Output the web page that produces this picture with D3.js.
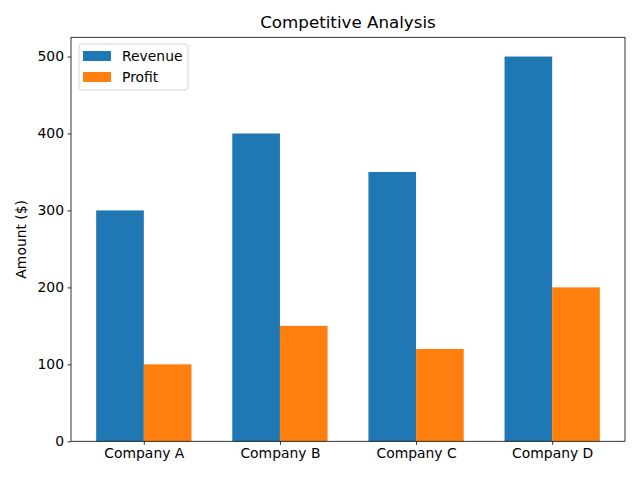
<!DOCTYPE html>
<html><head><meta charset="utf-8">
<script src="https://cdn.jsdelivr.net/npm/d3@7"></script>
<style>body{margin:0;background:#fff}text{font-family:"DejaVu Sans",sans-serif}</style>
</head><body>
<svg id="c" width="640" height="480"></svg>
<script>
const categories = ["Company A","Company B","Company C","Company D"];
const revenue = [300,400,350,500];
const profit = [100,150,120,200];
const yTicks = [0,100,200,300,400,500];
const seriesNames = ["Revenue","Profit"];
const colors = ["#1f77b4","#ff7f0e"];
const title = "Competitive Analysis";
const yLabel = "Amount ($)";

const svg = d3.select("#c");
const L=71, R=625, T=37.3, B=441.3;
const bw = 0.35;
const x = d3.scaleLinear().domain([-0.35-0.185, 3.35+0.185]).range([L,R]);
const y = d3.scaleLinear().domain([0,525]).range([B,T]);

const g = svg.append("g");
categories.forEach((c,i)=>{
  g.append("rect").attr("x",x(i-bw)).attr("width",x(i)-x(i-bw))
   .attr("y",y(revenue[i])).attr("height",y(0)-y(revenue[i])).attr("fill",colors[0]);
  g.append("rect").attr("x",x(i)).attr("width",x(i+bw)-x(i))
   .attr("y",y(profit[i])).attr("height",y(0)-y(profit[i])).attr("fill",colors[1]);
});

const xAxis = d3.axisBottom(x).tickValues(d3.range(categories.length)).tickFormat(i=>categories[i]).tickSize(3.5).tickPadding(3.5);
const gx = svg.append("g").attr("transform",`translate(0,${B})`).call(xAxis);
const yAxis = d3.axisLeft(y).tickValues(yTicks).tickSize(3.5).tickPadding(3.5);
const gy = svg.append("g").attr("transform",`translate(${L},0)`).call(yAxis);
[gx,gy].forEach(a=>{a.select(".domain").remove();a.selectAll("text").attr("font-size","13.9px").attr("font-family","DejaVu Sans").attr("fill","#000");a.selectAll("line").attr("stroke","#000").attr("stroke-width",0.8);});

svg.append("rect").attr("x",L).attr("y",T).attr("width",R-L).attr("height",B-T)
 .attr("fill","none").attr("stroke","#000").attr("stroke-width",0.8);

svg.append("text").attr("x",(L+R)/2).attr("y",28).attr("text-anchor","middle")
 .attr("font-size","16.7px").text(title);
svg.append("text").attr("transform",`translate(26,${(T+B)/2}) rotate(-90)`).attr("text-anchor","middle")
 .attr("font-size","13.9px").text(yLabel);

const lg = svg.append("g");
lg.append("rect").attr("x",79).attr("y",44).attr("width",109).attr("height",46).attr("rx",3)
 .attr("fill","#fff").attr("fill-opacity",0.8).attr("stroke","#ccc").attr("stroke-width",0.8);
seriesNames.forEach((s,i)=>{
  lg.append("rect").attr("x",83).attr("y",51+i*21).attr("width",28).attr("height",10).attr("fill",colors[i]);
  lg.append("text").attr("x",122).attr("y",61+i*21).attr("font-size","13.9px").text(s);
});
</script>
</body></html>
